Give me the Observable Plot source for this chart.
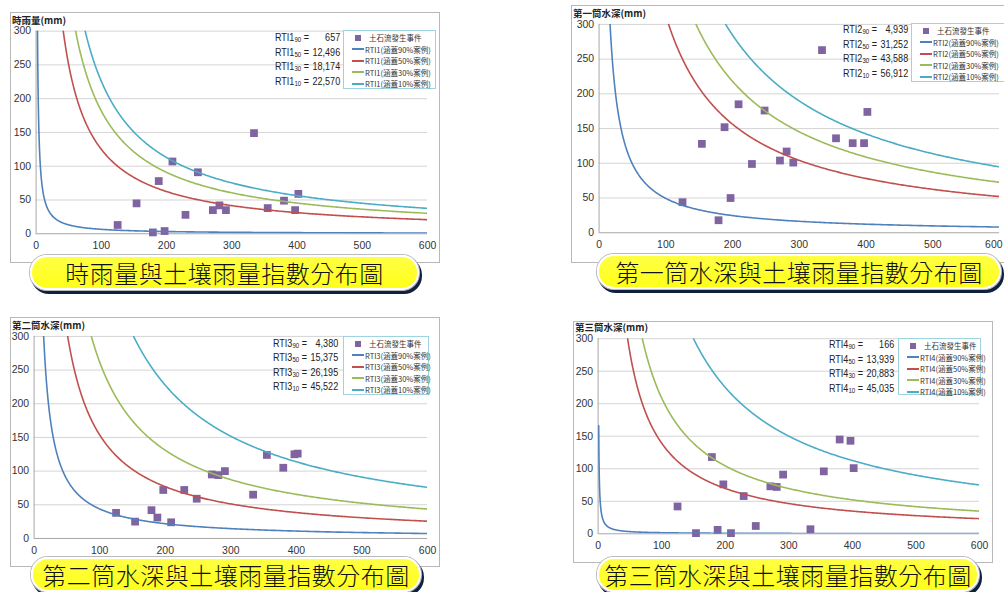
<!DOCTYPE html>
<html><head><meta charset="utf-8">
<script src="https://cdn.jsdelivr.net/npm/d3@7"></script>
<script src="https://cdn.jsdelivr.net/npm/@observablehq/plot@0.6"></script>
<style>
html,body{margin:0;padding:0;background:#fff;}
#page{position:relative;width:1004px;height:592px;overflow:hidden;background:#fff;font-family:"Liberation Sans",Arial,sans-serif;}
.box{position:absolute;border:1px solid #b8b8b8;background:#fff;overflow:hidden;box-sizing:border-box;}
.box svg{position:absolute;left:0;top:0;overflow:visible;}
.ytitle{position:absolute;font-family:"Noto Sans CJK TC",serif;font-weight:bold;font-size:9.5px;line-height:10px;color:#222;white-space:nowrap;}
.rti{position:absolute;display:grid;grid-template-columns:auto 36px;column-gap:2px;font-size:11px;color:#222;line-height:12.6px;transform:scaleX(0.82);transform-origin:0 0;}
.rti .v{text-align:right;}
.rti sub{font-size:7.5px;vertical-align:baseline;position:relative;top:1px;}
.legend{position:absolute;border:1px solid #9fd3e0;background:#fff;box-sizing:border-box;}
.legend .row{position:absolute;left:0;height:11px;display:flex;align-items:center;font-family:"Noto Sans CJK TC",serif;font-size:7.5px;color:#333;white-space:nowrap;}
.legend .sw{width:12px;height:2px;margin-left:8px;margin-right:1px;}
.legend .sq{width:6px;height:6px;margin-left:11px;margin-right:8px;background:#8064A2;}
.banner{position:absolute;height:31px;border-radius:17px;background:linear-gradient(#ffff44,#ffff1a);border:2px solid #fff;box-shadow:0 0 0 1px #bbb,2px 3px 0 1px #10203f;display:flex;align-items:center;justify-content:center;font-family:"Noto Sans CJK TC",sans-serif;font-weight:300;font-size:24px;color:#111;letter-spacing:0.5px;white-space:nowrap;}
</style></head>
<body><div id="page"></div>
<script>
// shared x values: soil rainfall index of the debris-flow events
const sri = [125, 154, 179, 188, 197, 209, 229, 248, 271, 281, 291, 334, 355, 380, 397, 402];
// y values per panel
const rain1  = [13, 45, 2, 78, 4, 107, 28, 91, 35, 42, 35, 149, 38, 49, 35, 59];
const depth1 = [44, 128, 18, 152, 50, 185, 99, 176, 104, 117, 101, 263, 136, 129, 129, 174];
const depth2 = [38, 25, 42, 31, 72, 24, 72, 59, 95, 94, 100, 65, 124, 105, 125, 126];
const depth3 = [42, 1, 118, 6, 76, 1, 58, 12, 73, 72, 91, 7, 96, 145, 143, 101];
// RTI constants (90%, 50%, 30%, 10%)
const rtiP1 = [657, 12496, 18174, 22570];
const rtiP2 = [4939, 31252, 43588, 56912];
const rtiP3 = [4380, 15375, 26195, 45522];
const rtiP4 = [166, 13939, 20883, 45035];
const pct = ["90", "50", "30", "10"];
const lineColors = ["#4F81BD", "#C0504D", "#9BBB59", "#4BACC6"];
const pointColor = "#8064A2";
const xTicks = [0, 100, 200, 300, 400, 500, 600];
const yTicks = [0, 50, 100, 150, 200, 250, 300];
const yTitles = ["時雨量(mm)", "第一筒水深(mm)", "第二筒水深(mm)", "第三筒水深(mm)"];
const bannerTitles = ["時雨量與土壤雨量指數分布圖", "第一筒水深與土壤雨量指數分布圖", "第二筒水深與土壤雨量指數分布圖", "第三筒水深與土壤雨量指數分布圖"];
const eventLabel = "土石流發生事件";

const panels = [
  {ys: rain1, rti: rtiP1, n: 1, lastEnd: false,
   box: {l: 10, t: 12, r: 440, b: 263}, area: {x0: 35.7, x1: 429, y0: 234.3, y1: 30.7},
   legend: {l: 343, t: 30, r: 436, b: 89}, rtiPos: {l: 275, t: 31}, tt: 3,
   banner: {l: 30, t: 255, r: 415}},
  {ys: depth1, rti: rtiP2, n: 2, lastEnd: true,
   box: {l: 571, t: 5, r: 1010, b: 263}, area: {x0: 598.7, x1: 1001, y0: 233.3, y1: 24},
   legend: {l: 911, t: 23, r: 1010, b: 82}, rtiPos: {l: 843, t: 23}, tt: 3,
   banner: {l: 597, t: 254, r: 997}},
  {ys: depth2, rti: rtiP3, n: 3, lastEnd: false,
   box: {l: 10, t: 317, r: 440, b: 567}, area: {x0: 33.7, x1: 429, y0: 539, y1: 336},
   legend: {l: 343, t: 336, r: 428.5, b: 395}, rtiPos: {l: 273, t: 336.5}, tt: 3,
   banner: {l: 31, t: 557, r: 417}},
  {ys: depth3, rti: rtiP4, n: 4, lastEnd: false,
   box: {l: 573, t: 321, r: 993, b: 563}, area: {x0: 597.7, x1: 981, y0: 534.3, y1: 338.3},
   legend: {l: 898, t: 338, r: 981, b: 394.5}, rtiPos: {l: 829, t: 338}, tt: 1,
   banner: {l: 597, t: 557, r: 975}}
];

function curve(k) {
  const xa = Math.max(k / 300, 1), n = 400;
  return d3.range(n + 1).map(i => { const x = xa * Math.pow(600 / xa, i / n); return {x, y: k / x}; });
}

const page = document.getElementById("page");
panels.forEach((p, pi) => {
  const b = p.box, a = p.area;
  const W = b.r - b.l, H = b.b - b.t;
  const box = document.createElement("div");
  box.className = "box";
  Object.assign(box.style, {left: b.l + "px", top: b.t + "px", width: W + "px", height: H + "px"});
  page.appendChild(box);

  const pts = sri.map((x, i) => ({x, y: p.ys[i]}));
  const lines = p.rti.flatMap((k, j) => curve(k).map(d => ({...d, s: j})));
  const xMain = p.lastEnd ? xTicks.slice(0, -1) : xTicks;
  const xLast = p.lastEnd ? xTicks.slice(-1) : [];

  const svg = Plot.plot({
    width: W, height: H,
    marginLeft: a.x0 - b.l, marginRight: b.l + W - a.x1,
    marginTop: a.y1 - b.t, marginBottom: b.t + H - a.y0,
    x: {domain: [0, 600], label: null},
    y: {domain: [0, 300], label: null},
    style: {fontFamily: "'Liberation Sans', Arial, sans-serif", fontSize: "10.5px", color: "#333", background: "transparent", overflow: "visible"},
    marks: [
      Plot.ruleY(yTicks.slice(1), {stroke: "#d4d4d4", strokeWidth: 1}),
      Plot.ruleX([0], {stroke: "#a6a6a6"}),
      Plot.ruleY([0], {stroke: "#a6a6a6"}),
      Plot.axisX(xMain, {tickSize: 0, tickPadding: 8, label: null, fill: "#333"}),
      Plot.axisX(xLast, {tickSize: 0, tickPadding: 8, label: null, fill: "#333", textAnchor: "end", dx: 3}),
      Plot.axisY(yTicks, {tickSize: 0, tickPadding: 5, label: null, fill: "#333"}),
      Plot.dot(pts, {x: "x", y: "y", symbol: "square", r: 4.4, fill: pointColor, stroke: "none"}),
      Plot.line(lines, {x: "x", y: "y", z: "s", stroke: d => lineColors[d.s], strokeWidth: 1.6, clip: true})
    ]
  });
  svg.style.left = "-1px"; svg.style.top = "-1px";
  box.appendChild(svg);

  const yt = document.createElement("div");
  yt.className = "ytitle"; yt.textContent = yTitles[pi];
  Object.assign(yt.style, {left: (b.l + 2) + "px", top: (b.t + p.tt) + "px"});
  page.appendChild(yt);

  const rt = document.createElement("div");
  rt.className = "rti";
  Object.assign(rt.style, {left: p.rtiPos.l + "px", top: p.rtiPos.t + "px"});
  rt.innerHTML = p.rti.map((k, j) => `<span>RTI${p.n}<sub>${pct[j]}</sub> =</span><span class="v">${d3.format(",")(k)}</span>`).join("");
  page.appendChild(rt);

  const lg = document.createElement("div");
  lg.className = "legend";
  const L = p.legend;
  Object.assign(lg.style, {left: L.l + "px", top: L.t + "px", width: (L.r - L.l) + "px", height: (L.b - L.t) + "px"});
  let html = `<div class="row" style="top:1px"><div class="sq"></div>${eventLabel}</div>`;
  pct.forEach((q, j) => {
    html += `<div class="row" style="top:${12.5 + j * 11.6}px"><div class="sw" style="background:${lineColors[j]}"></div>RTI${p.n}(涵蓋${q}%案例)</div>`;
  });
  lg.innerHTML = html;
  page.appendChild(lg);

  const bn = document.createElement("div");
  bn.className = "banner"; bn.textContent = bannerTitles[pi];
  Object.assign(bn.style, {left: p.banner.l + "px", top: p.banner.t + "px", width: (p.banner.r - p.banner.l) + "px"});
  page.appendChild(bn);
});
</script></body></html>
